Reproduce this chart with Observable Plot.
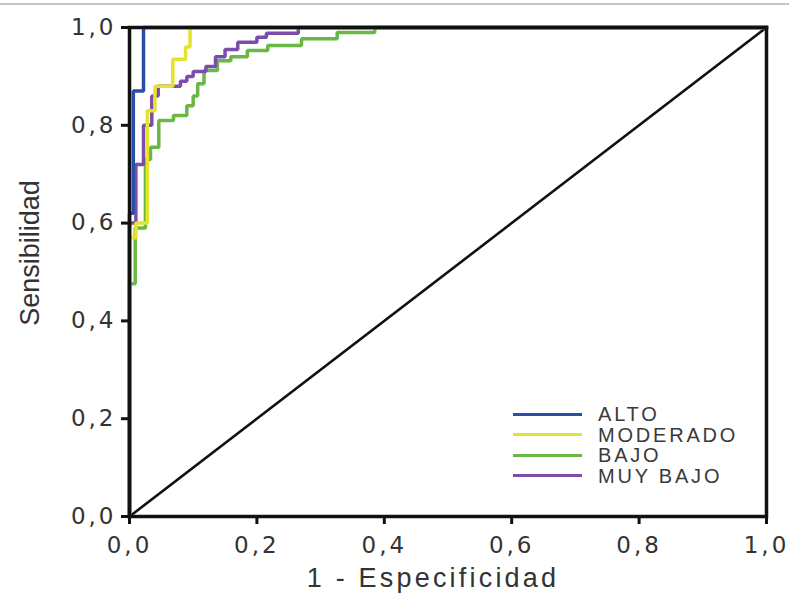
<!DOCTYPE html>
<html>
<head>
<meta charset="utf-8">
<script src="https://cdn.jsdelivr.net/npm/d3@7"></script>
<script src="https://cdn.jsdelivr.net/npm/@observablehq/plot@0.6"></script>
<style>
  html, body { margin: 0; padding: 0; background: #fff; }
  #wrap { position: relative; width: 789px; height: 595px; overflow: hidden; font-family: "Liberation Sans", Arial, sans-serif; }
  #topline { position: absolute; left: 0; top: 3px; width: 789px; height: 2px; background: #c4c4c4; }
  #legend { position: absolute; left: 513px; top: 404px; }
  .row { display: flex; align-items: center; height: 20.5px; }
  .sw { width: 69px; height: 3px; margin-right: 16px; }
  .lab { font-size: 20px; letter-spacing: 2.8px; color: #3a3a3a; line-height: 20px; }
  g[aria-label="x-axis tick label"], g[aria-label="y-axis tick label"] { letter-spacing: 3px; font-family: "DejaVu Sans", sans-serif; }
</style>
</head>
<body>
<div id="wrap"><div id="topline"></div><div id="chart"></div><div id="legend"></div></div>
<script>
// Series names and colours
const seriesNames = ["ALTO", "MODERADO", "BAJO", "MUY BAJO"];
const seriesColors = ["#2a4ea8", "#e4e42c", "#69b845", "#7a4ea8"];

// ROC curves: 1 - Especificidad (fpr) and Sensibilidad (tpr)
const altoFpr = [0, 0, 0.006, 0.006, 0.022, 0.022, 1];
const altoTpr = [0, 0.62, 0.62, 0.87, 0.87, 1, 1];

const moderadoFpr = [0, 0, 0.01, 0.01, 0.028, 0.028, 0.04, 0.04, 0.068, 0.068, 0.088, 0.088, 0.095, 0.095, 1];
const moderadoTpr = [0, 0.57, 0.57, 0.6, 0.6, 0.83, 0.83, 0.88, 0.88, 0.935, 0.935, 0.96, 0.96, 1, 1];

const bajoFpr = [0, 0, 0.009, 0.009, 0.025, 0.025, 0.033, 0.033, 0.046, 0.046, 0.069, 0.069, 0.09, 0.09, 0.1, 0.1, 0.107, 0.107, 0.117, 0.117, 0.138, 0.138, 0.159, 0.159, 0.185, 0.185, 0.217, 0.217, 0.27, 0.27, 0.326, 0.326, 0.385, 0.385, 1];
const bajoTpr = [0, 0.476, 0.476, 0.59, 0.59, 0.73, 0.73, 0.755, 0.755, 0.81, 0.81, 0.82, 0.82, 0.84, 0.84, 0.86, 0.86, 0.885, 0.885, 0.912, 0.912, 0.932, 0.932, 0.94, 0.94, 0.953, 0.953, 0.963, 0.963, 0.977, 0.977, 0.99, 0.99, 1, 1];

const muyBajoFpr = [0, 0, 0.01, 0.01, 0.022, 0.022, 0.035, 0.035, 0.045, 0.045, 0.08, 0.08, 0.09, 0.09, 0.1, 0.1, 0.12, 0.12, 0.135, 0.135, 0.15, 0.15, 0.17, 0.17, 0.2, 0.2, 0.215, 0.215, 0.265, 0.265, 1];
const muyBajoTpr = [0, 0.6, 0.6, 0.72, 0.72, 0.8, 0.8, 0.86, 0.86, 0.88, 0.88, 0.89, 0.89, 0.9, 0.9, 0.91, 0.91, 0.92, 0.92, 0.94, 0.94, 0.955, 0.955, 0.97, 0.97, 0.98, 0.98, 0.988, 0.988, 1, 1];

// Reference diagonal
const diagX = [0, 1];
const diagY = [0, 1];

// Tick values
const ticks = [0, 0.2, 0.4, 0.6, 0.8, 1.0];
const xTitle = "1 - Especificidad";
const yTitle = "Sensibilidad";

const toRows = (name, xs, ys) => xs.map((x, i) => ({name, x, y: ys[i]}));
const curves = [
  toRows("BAJO", bajoFpr, bajoTpr),
  toRows("MUY BAJO", muyBajoFpr, muyBajoTpr),
  toRows("MODERADO", moderadoFpr, moderadoTpr),
  toRows("ALTO", altoFpr, altoTpr)
];
const colorOf = n => seriesColors[seriesNames.indexOf(n)];
const fmt = d => d.toFixed(1).replace(".", ",");

const chart = Plot.plot({
  width: 789,
  height: 595,
  marginTop: 27,
  marginLeft: 129,
  marginRight: 23,
  marginBottom: 79,
  style: {fontFamily: "'Liberation Sans', Arial, sans-serif", color: "#333", background: "#fff"},
  x: {domain: [0, 1]},
  y: {domain: [0, 1]},
  marks: [
    Plot.line(diagX.map((x, i) => ({x, y: diagY[i]})), {x: "x", y: "y", stroke: "#111", strokeWidth: 2.6}),
    ...curves.map(rows => Plot.line(rows, {x: "x", y: "y", stroke: colorOf(rows[0].name), strokeWidth: 3.5, strokeLinejoin: "miter", strokeLinecap: "square"})),
    Plot.axisX({ticks, tickFormat: fmt, tickSize: 8, tickPadding: 12, fontSize: 23, stroke: "#111", strokeWidth: 3, fill: "#333", label: null}),
    Plot.axisY({ticks, tickFormat: fmt, tickSize: 8, tickPadding: 5, fontSize: 23, stroke: "#111", strokeWidth: 3, fill: "#333", label: null}),
    Plot.frame({stroke: "#111", strokeWidth: 3.5}),
    Plot.text([xTitle], {frameAnchor: "bottom", text: d => d, fontSize: 27, dy: 62, dx: -15, textAnchor: "middle", lineAnchor: "middle", fill: "#333"}),
    Plot.text([yTitle], {frameAnchor: "left", text: d => d, fontSize: 27, dx: -99, dy: -19, rotate: -90, textAnchor: "middle", lineAnchor: "middle", fill: "#333"})
  ]
});
d3.select(chart).selectAll("text")
  .filter(function () { return this.textContent === xTitle; })
  .style("letter-spacing", "3.2px");
document.getElementById("chart").appendChild(chart);

const legend = document.getElementById("legend");
seriesNames.forEach((n, i) => {
  const row = document.createElement("div");
  row.className = "row";
  const sw = document.createElement("div");
  sw.className = "sw";
  sw.style.background = seriesColors[i];
  const lab = document.createElement("span");
  lab.className = "lab";
  lab.textContent = n;
  row.appendChild(sw);
  row.appendChild(lab);
  legend.appendChild(row);
});
</script>
</body>
</html>
